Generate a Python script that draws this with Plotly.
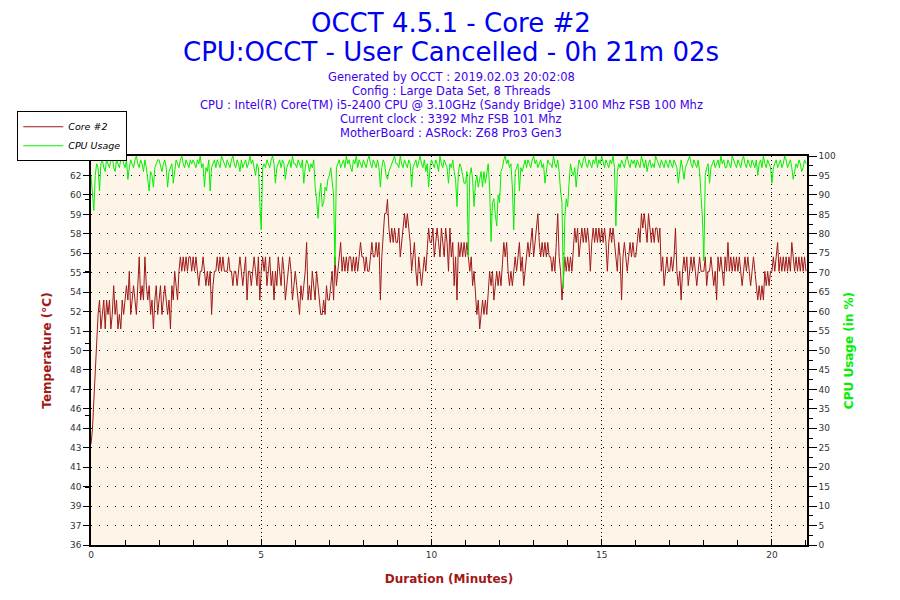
import plotly.graph_objects as go

# OCCT log: one reading every 2.5 s, 24 readings per row = 1 minute per row
sample_step_s = 2.5
run_length_min = 21.03

core2_temp = [
    43, 44, 46, 48, 51, 52, 53, 51, 52, 53, 51, 53, 52, 53, 51, 52, 54, 52, 53, 51, 52, 51, 53, 52,
    53, 54, 53, 55, 52, 53, 54, 53, 52, 54, 56, 53, 54, 53, 56, 54, 53, 54, 52, 53, 51, 53, 54, 52,
    53, 54, 52, 53, 54, 53, 52, 53, 51, 54, 53, 55, 54, 53, 55, 56, 55, 56, 55, 56, 55, 56, 56, 55,
    56, 55, 56, 55, 54, 55, 55, 56, 55, 54, 55, 54, 55, 52, 54, 55, 55, 56, 55, 56, 55, 56, 55, 55,
    55, 56, 55, 55, 54, 55, 55, 54, 55, 56, 55, 54, 55, 56, 53, 55, 55, 54, 55, 56, 55, 54, 56, 53,
    55, 56, 55, 56, 54, 55, 56, 54, 55, 53, 55, 54, 56, 55, 54, 56, 55, 53, 54, 55, 56, 55, 53, 54,
    55, 54, 53, 52, 54, 53, 54, 55, 57, 53, 54, 53, 55, 54, 53, 55, 54, 53, 52, 52, 53, 52, 54, 53,
    53, 54, 55, 53, 56, 54, 55, 56, 57, 55, 56, 55, 56, 55, 56, 56, 55, 56, 55, 56, 55, 56, 57, 56,
    56, 55, 56, 55, 55, 56, 57, 56, 56, 57, 56, 57, 53, 56, 58, 59, 59, 60, 58, 57, 58, 57, 58, 57,
    57, 58, 56, 57, 58, 59, 58, 59, 58, 57, 55, 56, 57, 55, 54, 56, 55, 54, 55, 56, 55, 57, 58, 57,
    57, 58, 56, 57, 58, 57, 56, 58, 57, 56, 58, 57, 55, 58, 56, 57, 54, 56, 53, 57, 56, 57, 56, 57,
    56, 57, 56, 55, 56, 54, 55, 53, 52, 53, 51, 52, 53, 52, 53, 52, 54, 55, 54, 55, 53, 54, 55, 54,
    55, 54, 56, 57, 56, 57, 55, 54, 55, 54, 55, 56, 55, 56, 57, 55, 56, 54, 55, 56, 57, 56, 57, 58,
    56, 57, 58, 59, 57, 56, 57, 56, 57, 56, 57, 56, 56, 55, 56, 55, 57, 59, 56, 55, 53, 55, 56, 55,
    56, 55, 56, 55, 57, 58, 57, 58, 56, 57, 58, 57, 58, 57, 58, 57, 55, 57, 58, 57, 58, 57, 58, 57,
    58, 57, 58, 57, 55, 57, 58, 57, 58, 57, 56, 55, 57, 56, 53, 56, 57, 56, 55, 56, 57, 56, 57, 56,
    56, 57, 58, 57, 59, 58, 59, 58, 57, 59, 58, 57, 58, 57, 58, 58, 57, 58, 55, 56, 54, 55, 56, 55,
    55, 56, 55, 56, 58, 55, 54, 55, 53, 55, 56, 55, 56, 54, 55, 56, 55, 56, 55, 54, 55, 56, 55, 55,
    55, 56, 54, 55, 55, 56, 55, 54, 55, 53, 56, 55, 56, 55, 54, 56, 55, 57, 55, 56, 55, 56, 55, 56,
    55, 56, 55, 54, 55, 56, 55, 56, 55, 54, 55, 56, 55, 54, 53, 54, 53, 54, 53, 55, 54, 55, 54, 55,
    55, 56, 55, 56, 57, 55, 56, 55, 56, 55, 56, 55, 56, 55, 57, 56, 55, 56, 55, 56, 55, 56, 55, 56,
    55,
]

cpu_usage = [
    95, 89, 86, 95, 98, 97, 91, 98, 99, 97, 96, 99, 98, 97, 99, 100, 97, 96, 99, 98, 97, 99, 100, 98,
    97, 99, 94, 97, 99, 98, 97, 99, 100, 98, 97, 99, 98, 96, 99, 97, 93, 91, 96, 95, 92, 97, 98, 99,
    99, 97, 96, 98, 99, 97, 92, 96, 97, 98, 93, 97, 99, 98, 97, 99, 100, 98, 97, 99, 98, 97, 99, 98,
    99, 98, 97, 99, 98, 100, 97, 98, 92, 97, 96, 99, 91, 97, 98, 99, 97, 99, 98, 97, 100, 99, 98, 97,
    99, 98, 97, 99, 100, 98, 97, 99, 98, 96, 99, 97, 98, 99, 97, 98, 100, 98, 99, 97, 95, 98, 97, 88,
    81, 97, 98, 97, 99, 98, 97, 99, 100, 98, 93, 97, 98, 99, 97, 99, 98, 94, 97, 98, 99, 97, 100, 98,
    98, 97, 99, 98, 97, 99, 93, 97, 99, 98, 96, 98, 97, 99, 92, 89, 84, 90, 93, 87, 88, 92, 91, 94,
    95, 97, 93, 90, 72, 97, 98, 99, 97, 98, 99, 97, 100, 98, 99, 97, 96, 99, 98, 100, 97, 99, 98, 97,
    99, 98, 97, 99, 100, 98, 97, 99, 98, 97, 99, 97, 92, 97, 99, 98, 95, 94, 96, 97, 98, 99, 100, 98,
    98, 97, 100, 98, 97, 99, 98, 97, 99, 98, 92, 97, 98, 99, 97, 99, 100, 98, 97, 99, 96, 98, 92, 97,
    99, 98, 97, 99, 98, 96, 100, 98, 97, 99, 98, 97, 93, 98, 97, 99, 96, 94, 87, 96, 98, 97, 95, 93,
    93, 96, 74, 95, 97, 94, 87, 93, 95, 92, 94, 96, 92, 96, 93, 95, 98, 92, 78, 88, 89, 85, 82, 90,
    88, 96, 97, 99, 100, 98, 99, 97, 98, 92, 81, 96, 97, 98, 91, 97, 96, 98, 99, 97, 99, 98, 97, 99,
    100, 98, 99, 97, 98, 99, 97, 98, 93, 97, 99, 98, 98, 97, 100, 98, 97, 99, 96, 91, 88, 66, 84, 89,
    87, 93, 98, 96, 95, 97, 92, 96, 99, 98, 97, 99, 100, 98, 97, 99, 98, 97, 99, 98, 100, 97, 99, 98,
    100, 98, 97, 99, 98, 97, 99, 98, 100, 97, 82, 96, 98, 97, 99, 98, 97, 99, 100, 98, 97, 99, 98, 99,
    97, 99, 98, 97, 100, 98, 97, 99, 96, 98, 99, 97, 98, 97, 100, 99, 98, 97, 99, 98, 97, 99, 98, 97,
    99, 98, 97, 99, 98, 97, 93, 96, 99, 97, 94, 97, 98, 99, 100, 98, 97, 99, 98, 97, 99, 96, 90, 84,
    73, 95, 97, 98, 93, 97, 98, 99, 97, 98, 99, 97, 100, 98, 99, 97, 97, 99, 98, 97, 100, 99, 98, 97,
    99, 98, 97, 99, 100, 98, 97, 99, 98, 97, 99, 98, 97, 99, 95, 98, 99, 97, 100, 98, 97, 99, 98, 97,
    93, 97, 98, 99, 97, 98, 99, 97, 98, 100, 99, 97, 98, 99, 97, 94, 96, 98, 97, 99, 98, 96, 97, 99,
    98,
]

temp_minutes = [i * sample_step_s / 60 for i in range(len(core2_temp))]
cpu_minutes = [i * sample_step_s / 60 for i in range(len(cpu_usage))]

# left axis labels as OCCT prints them (20 even steps between 36 and 63, rounded)
temp_tick_labels = ['36', '37', '39', '40', '41', '43', '44', '46', '47', '48', '50',
                    '51', '52', '54', '55', '56', '58', '59', '60', '62', '63']
temp_tick_vals = [36 + 1.35 * k for k in range(len(temp_tick_labels))]

header_lines = [
    'Generated by OCCT : 2019.02.03 20:02:08',
    'Config : Large Data Set, 8 Threads',
    'CPU : Intel(R) Core(TM) i5-2400 CPU @ 3.10GHz (Sandy Bridge) 3100 Mhz FSB 100 Mhz',
    'Current clock : 3392 Mhz FSB 101 Mhz',
    'MotherBoard : ASRock: Z68 Pro3 Gen3',
]

RED = '#A01818'
GREEN = '#00F000'
FONT = 'DejaVu Sans'

fig = go.Figure()
fig.add_trace(go.Scatter(x=temp_minutes, y=core2_temp, name='Core #2', mode='lines',
                         line=dict(color=RED, width=1), yaxis='y'))
fig.add_trace(go.Scatter(x=cpu_minutes, y=cpu_usage, name='CPU Usage', mode='lines',
                         line=dict(color=GREEN, width=1), yaxis='y2'))

# title block (page pixel rows -> paper y; plot runs from row 155 to row 544)
def py(pix):
    return (544 - pix) / 389

annots = [
    dict(text='OCCT 4.5.1 - Core #2', y=py(22), font=dict(size=26, color='#0000F0')),
    dict(text='CPU:OCCT - User Cancelled - 0h 21m 02s', y=py(51), font=dict(size=26, color='#0000F0')),
]
for i, line in enumerate(header_lines):
    annots.append(dict(text=line, y=py(76 + 14 * i), font=dict(size=11.5, color='#4000F0')))
for a in annots:
    a.update(xref='paper', yref='paper', x=(450 - 90) / 716, xanchor='center',
             yanchor='middle', showarrow=False)
    a['font']['family'] = FONT

fig.update_layout(
    width=900, height=600,
    margin=dict(l=83, r=101, t=148, b=63, autoexpand=False),
    paper_bgcolor='white',
    plot_bgcolor='#FDF6E8',
    font=dict(family=FONT, size=9, color='#333333'),
    annotations=annots,
    showlegend=True,
    legend=dict(x=-0.103, y=1.115, xanchor='left', yanchor='top',
                bgcolor='white', bordercolor='black', borderwidth=1,
                font=dict(size=9.5, color='black', style='italic'),
                tracegroupgap=0, itemwidth=40),
    xaxis=dict(
        range=[0, run_length_min], tickvals=[0, 5, 10, 15, 20],
        showgrid=True, gridcolor='black', griddash='1px,3px', gridwidth=1,
        showline=True, linecolor='black', linewidth=1.5, mirror=True,
        ticks='inside', ticklen=6, tickcolor='black', zeroline=False,
        minor=dict(dtick=1, ticks='inside', ticklen=5, tickcolor='black', showgrid=False),
        title=dict(text='<b>Duration (Minutes)</b>', standoff=16,
                   font=dict(size=12, color=RED, family=FONT)),
    ),
    yaxis=dict(
        range=[36, 63], tickvals=temp_tick_vals, ticktext=temp_tick_labels,
        showgrid=True, gridcolor='black', griddash='1px,7px', gridwidth=1,
        showline=True, linecolor='black', linewidth=1.5, zeroline=False,
        ticks='outside', ticklen=6, tickcolor='black',
        minor=dict(nticks=2, ticks='outside', ticklen=4, tickcolor='black', showgrid=False),
        title=dict(text='<b>Temperature (°C)</b>', standoff=16,
                   font=dict(size=12, color=RED, family=FONT)),
    ),
    yaxis2=dict(
        range=[0, 100], dtick=5, overlaying='y', side='right',
        showgrid=False, showline=True, linecolor='black', linewidth=1.5, zeroline=False,
        ticks='outside', ticklen=8, tickcolor='black',
        minor=dict(dtick=2.5, ticks='outside', ticklen=4, tickcolor='black'),
        title=dict(text='<b>CPU Usage (in %)</b>', standoff=10,
                   font=dict(size=12, color=GREEN, family=FONT)),
    ),
)

fig.write_html('out.html')
